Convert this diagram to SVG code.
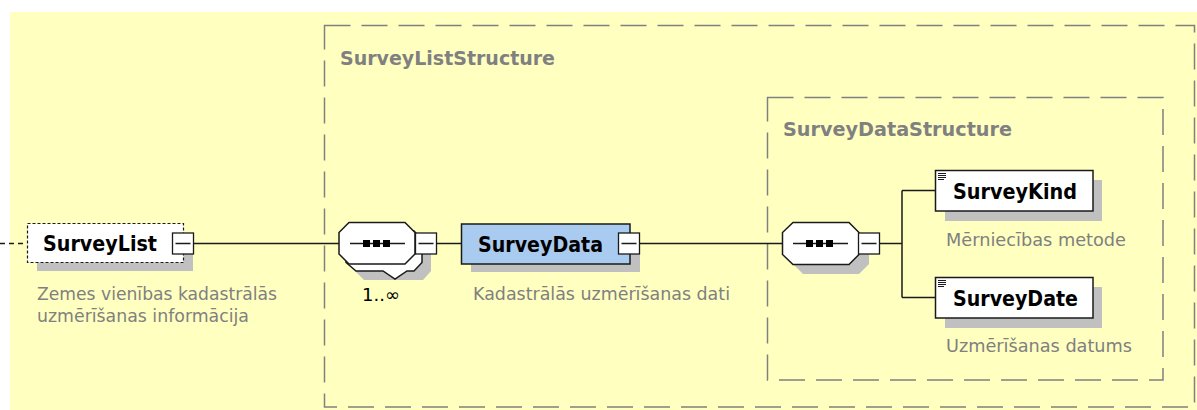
<svg xmlns="http://www.w3.org/2000/svg" width="1197" height="410" viewBox="0 0 1197 410">
<style>
.bg{fill:#FFFFC0}
.frame{fill:none;stroke:#808080;stroke-width:1.5;stroke-dasharray:26 11}
.flabel{font-family:"DejaVu Sans",Verdana,sans-serif;font-weight:bold;font-size:20px;fill:#808080}
.name{font-family:"DejaVu Sans",Verdana,sans-serif;font-weight:bold;font-size:20.5px;fill:#000}
.desc{font-family:"DejaVu Sans",Verdana,sans-serif;font-size:18px;fill:#808080}
.occ{font-family:"DejaVu Sans",Verdana,sans-serif;font-size:18px;fill:#000}
.shadow{fill:#C0C0C0;stroke:none}
.box{fill:#FFFFFF;stroke:#1a1a1a;stroke-width:1.5}
.opt{fill:#FFFFFF;stroke:#1a1a1a;stroke-width:1.2;stroke-dasharray:3 2}
.cplx{fill:#A9CBF0;stroke:#1a1a1a;stroke-width:1.5}
.ln{fill:none;stroke:#1a1a1a;stroke-width:1.5}
.exp{fill:#FFFFFF;stroke:#1a1a1a;stroke-width:1.3}
.sq{fill:#000}
.doc{stroke:#1a1a1a;stroke-width:1}
</style>
<rect class="bg" x="10" y="12" width="1187" height="398"/>

<g id="SurveyListStructure">
<rect class="frame" x="324.5" y="25.5" width="870" height="381.5"/>
<text class="flabel" x="340" y="65" textLength="215" lengthAdjust="spacingAndGlyphs">SurveyListStructure</text>
</g>
<g id="SurveyDataStructure">
<rect class="frame" x="767.5" y="97.5" width="395.5" height="282.5"/>
<text class="flabel" x="783" y="136" textLength="229" lengthAdjust="spacingAndGlyphs">SurveyDataStructure</text>
</g>

<g id="connectors">
<line class="ln" x1="0" y1="243.5" x2="27" y2="243.5" stroke-dasharray="5 4"/>
<line class="ln" x1="193" y1="243.5" x2="339" y2="243.5"/>
<line class="ln" x1="437" y1="243.5" x2="461" y2="243.5"/>
<line class="ln" x1="640" y1="243.5" x2="782" y2="243.5"/>
<line class="ln" x1="880" y1="243.5" x2="902" y2="243.5"/>
<line class="ln" x1="902" y1="190.5" x2="902" y2="297.5"/>
<line class="ln" x1="902" y1="190.5" x2="935" y2="190.5"/>
<line class="ln" x1="902" y1="297.5" x2="935" y2="297.5"/>
</g>

<g id="SurveyList">
<rect class="shadow" x="37" y="233" width="156" height="38"/>
<rect class="opt" x="27.5" y="223.5" width="156" height="39"/>
<text class="name" x="43" y="251" textLength="114" lengthAdjust="spacingAndGlyphs">SurveyList</text>
<rect class="exp" x="172.5" y="233" width="21" height="21"/>
<line class="ln" x1="175.5" y1="243.5" x2="190.5" y2="243.5"/>
<text class="desc" x="37" y="300" textLength="240" lengthAdjust="spacingAndGlyphs">Zemes vienības kadastrālās</text>
<text class="desc" x="37" y="322" textLength="212" lengthAdjust="spacingAndGlyphs">uzmērīšanas informācija</text>
</g>

<g id="sequence1">
<path class="shadow" d="M364,239.5 H423 L431,248 V271 L423,280 H364 L355,271 V248 Z"/>
<path class="box" d="M356,231 H414 L422,239.5 V262.5 L414,271 H407 L395,279 L383,271 H356 L346,262.5 V239.5 Z"/>
<path class="box" d="M349,222.5 H405 L415,232.5 V254 L405,264 H349 L339,254 V232.5 Z"/>
<line class="ln" x1="350" y1="243.5" x2="405" y2="243.5"/>
<rect class="sq" x="363" y="240" width="7" height="7"/>
<rect class="sq" x="373" y="240" width="7" height="7"/>
<rect class="sq" x="383" y="240" width="7" height="7"/>
<rect class="exp" x="415.5" y="233" width="21" height="21"/>
<line class="ln" x1="418.5" y1="243.5" x2="433.5" y2="243.5"/>
<text class="occ" x="362" y="301">1..∞</text>
</g>

<g id="SurveyData">
<rect class="shadow" x="471" y="233" width="169" height="39"/>
<rect class="cplx" x="461.5" y="224" width="168.5" height="40"/>
<text class="name" x="478" y="252" textLength="125" lengthAdjust="spacingAndGlyphs">SurveyData</text>
<rect class="exp" x="618.5" y="233" width="21" height="21"/>
<line class="ln" x1="621.5" y1="243.5" x2="636.5" y2="243.5"/>
<text class="desc" x="473" y="300" textLength="257" lengthAdjust="spacingAndGlyphs">Kadastrālās uzmērīšanas dati</text>
</g>

<g id="sequence2">
<path class="shadow" d="M803,232.5 H859 L869,242.5 V264 L859,274 H803 L793,264 V242.5 Z"/>
<path class="box" d="M793,222.5 H849 L859,232.5 V254.5 L849,264.5 H793 L782.5,254.5 V232.5 Z"/>
<line class="ln" x1="793" y1="243.5" x2="848" y2="243.5"/>
<rect class="sq" x="806" y="240" width="7" height="7"/>
<rect class="sq" x="816" y="240" width="7" height="7"/>
<rect class="sq" x="826" y="240" width="7" height="7"/>
<rect class="exp" x="858.5" y="233" width="21" height="21"/>
<line class="ln" x1="861.5" y1="243.5" x2="876.5" y2="243.5"/>
</g>

<g id="SurveyKind">
<rect class="shadow" x="945" y="180" width="157" height="41"/>
<rect class="box" x="935.5" y="170.5" width="157.5" height="40.5"/>
<line class="doc" x1="938" y1="173.5" x2="946" y2="173.5"/>
<line class="doc" x1="938" y1="175.5" x2="946" y2="175.5"/>
<line class="doc" x1="938" y1="177.5" x2="946" y2="177.5"/>
<line class="doc" x1="938" y1="179.5" x2="944" y2="179.5"/>
<text class="name" x="953" y="199" textLength="124" lengthAdjust="spacingAndGlyphs">SurveyKind</text>
<text class="desc" x="946" y="246" textLength="180" lengthAdjust="spacingAndGlyphs">Mērniecības metode</text>
</g>

<g id="SurveyDate">
<rect class="shadow" x="945" y="287" width="157" height="41"/>
<rect class="box" x="935.5" y="277.5" width="157.5" height="40.5"/>
<line class="doc" x1="938" y1="280.5" x2="946" y2="280.5"/>
<line class="doc" x1="938" y1="282.5" x2="946" y2="282.5"/>
<line class="doc" x1="938" y1="284.5" x2="946" y2="284.5"/>
<line class="doc" x1="938" y1="286.5" x2="944" y2="286.5"/>
<text class="name" x="953" y="306" textLength="125" lengthAdjust="spacingAndGlyphs">SurveyDate</text>
<text class="desc" x="946" y="352" textLength="186" lengthAdjust="spacingAndGlyphs">Uzmērīšanas datums</text>
</g>
</svg>
